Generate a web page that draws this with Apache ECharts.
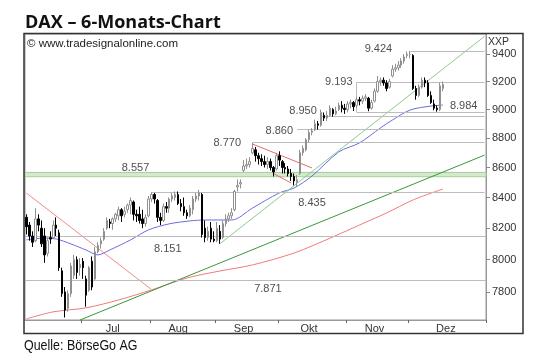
<!DOCTYPE html>
<html><head><meta charset="utf-8">
<script src="https://cdn.jsdelivr.net/npm/echarts@6/dist/echarts.min.js"></script>
<style>html,body{margin:0;padding:0;background:#fff}#c{width:540px;height:364px}</style>
</head><body><div id="c"></div>
<script>
// ---- categories: trading days (weekdays) from 4 Jun 2013 ----
const NDAYS = 155;
const dates = [];
(function () {
  const d = new Date(Date.UTC(2013, 5, 4));
  while (dates.length < NDAYS) {
    const wd = d.getUTCDay();
    if (wd !== 0 && wd !== 6) dates.push(d.toISOString().slice(0, 10));
    d.setUTCDate(d.getUTCDate() + 1);
  }
})();

const monthLabels = ['Jul', 'Aug', 'Sep', 'Okt', 'Nov', 'Dez'];
const monthLabelIdx = [29, 51, 73, 95, 117, 141];
const monthStartIdx = [19, 42, 64, 85, 108, 129];
const yTicks = [7800, 8000, 8200, 8400, 8600, 8800, 9000, 9200, 9400];

// ---- daily candles [open, close, low, high] ----
const ohlc = [
[8270,8210,8160,8290],[8220,8150,8120,8240],[8150,8110,8080,8180],[8120,8260,8110,8330],[8260,8220,8180,8290],
[8200,8100,8080,8250],[8150,8030,7980,8200],[8040,8120,8020,8140],[8140,8130,8100,8180],[8140,8220,8130,8250],
[8220,8200,8150,8270],[8170,7950,7930,8190],[7930,7790,7770,7950],[7800,7690,7645,7830],[7700,7790,7680,7810],
[7790,7960,7770,7980],[7900,8000,7880,8030],[8000,7920,7880,8020],[7950,7970,7900,8010],[7990,7950,7880,8010],
[7880,7780,7710,7900],[7810,7950,7800,7960],[7990,7830,7810,8020],[7880,8050,7870,8080],[8050,8090,8040,8110],
[8100,8120,8070,8140],[8130,8180,8120,8200],[8200,8250,8190,8270],[8240,8230,8200,8260],[8230,8260,8190,8270],
[8260,8290,8240,8300],[8280,8320,8250,8340],[8320,8280,8240,8330],[8290,8310,8270,8340],[8320,8350,8300,8360],
[8350,8380,8290,8400],[8370,8290,8250,8380],[8290,8280,8240,8320],[8290,8250,8230,8340],[8260,8230,8200,8320],
[8230,8270,8210,8290],[8280,8390,8270,8410],[8390,8420,8370,8435],[8420,8390,8360,8430],[8380,8270,8240,8390],
[8270,8250,8220,8300],[8250,8340,8240,8360],[8340,8330,8300,8370],[8330,8390,8300,8400],[8390,8410,8370,8430],
[8400,8420,8380,8440],[8420,8360,8350,8440],[8360,8340,8310,8390],[8340,8300,8280,8400],[8300,8280,8260,8320],
[8280,8330,8270,8350],[8320,8390,8290,8410],[8390,8410,8370,8430],[8410,8430,8380,8450],[8420,8160,8140,8430],
[8200,8140,8110,8250],[8140,8180,8120,8210],[8200,8130,8110,8240],[8130,8120,8110,8180],[8120,8200,8110,8240],
[8180,8130,8100,8220],[8140,8230,8130,8250],[8230,8260,8210,8290],[8260,8280,8240,8300],[8280,8300,8260,8330],
[8320,8440,8310,8450],[8470,8480,8440,8520],[8490,8500,8460,8520],[8580,8610,8570,8650],[8610,8620,8590,8660],
[8620,8640,8600,8670],[8700,8730,8690,8770],[8720,8680,8640,8740],[8680,8660,8620,8700],[8660,8640,8610,8690],
[8640,8620,8600,8680],[8620,8640,8590,8670],[8640,8600,8580,8660],[8600,8570,8540,8610],[8590,8680,8580,8700],
[8680,8650,8610,8710],[8640,8600,8560,8650],[8600,8590,8560,8630],[8590,8560,8540,8610],[8560,8540,8510,8590],
[8540,8510,8480,8560],[8500,8520,8470,8550],[8560,8700,8550,8720],[8700,8730,8680,8750],[8720,8790,8710,8800],
[8790,8840,8770,8860],[8840,8850,8820,8870],[8860,8900,8850,8930],[8900,8890,8860,8920],[8890,8980,8880,9000],
[8960,8940,8920,8980],[8940,8960,8920,8990],[8960,9010,8950,9030],[9000,8970,8950,9010],[8970,8990,8960,9020],
[9000,9030,8990,9050],[9030,9010,8980,9060],[9010,9000,8970,9040],[9000,9040,8980,9060],[9040,9050,9010,9070],
[9050,9020,8990,9060],[9030,9070,9010,9090],[9070,9060,9030,9090],[9060,9080,9040,9100],[9080,9090,9060,9110],
[9080,9010,8990,9090],[9010,9050,9000,9070],[9060,9130,9050,9150],[9130,9200,9120,9240],[9200,9210,9170,9230],
[9210,9190,9170,9230],[9190,9150,9130,9210],[9160,9200,9150,9220],[9240,9290,9230,9320],[9290,9300,9270,9330],
[9300,9320,9280,9350],[9320,9350,9300,9370],[9350,9380,9330,9400],[9390,9400,9370,9420],[9400,9400,9370,9424],
[9390,9150,9140,9400],[9150,9100,9070,9170],[9100,9160,9090,9180],[9160,9210,9150,9230],[9210,9190,9160,9230],
[9190,9100,9090,9210],[9100,9050,9040,9130],[9040,9010,8995,9070],[9010,9000,8985,9030],[9000,9170,8990,9190],
[9150,9180,9130,9200]
];

// ---- indicator lines [dayIndex, value] ----
const maBlue = [[0,8125],[6,8137],[10,8131],[15,8099],[20,8061],[24,8030],[28,8061],[35,8125],[41,8189],[48,8228],
  [55,8247],[60,8253],[69,8253],[76,8331],[85,8430],[90,8463],[96,8543],[105,8706],[112,8768],[119,8871],
  [123,8926],[129,8997],[136,9025],[140,9032]];
const maRed = [[0,7637],[9,7679],[20,7703],[31,7751],[42,7812],[54,7886],[65,7929],[76,7967],[90,8042],
  [103,8144],[112,8221],[121,8298],[130,8384],[140,8456]];
const trendSteep = [[65,8100],[154,9532]];
const trendLow = [[18,7630],[154,8684]];
const trendDown = [[0,8429],[42,7815]];
const flagUpper = [[76,8760],[96,8597]];
const flagLower = [[83,8560],[89,8496]];

// ---- horizontal levels ----
const levelValue = [9424, 9193, 8984, 8950, 8860, 8770, 8435];
const levelFrom  = [129, 111, 111, 99, 91, 76, 42];
const fullLevels = [8151, 7871];
const boxVert = [[111, 8984, 9193], [115, 8984, 9080]];
const band = [8538, 8567];

// ---- annotation texts ----
const annoText  = ['9.424', '9.193', '8.950', '8.860', '8.770', '8.557', '8.435', '8.151', '7.871', '8.984'];
const annoIdx   = [118, 105, 93, 85, 67, 38, 96, 48, 81, 147];
const annoValue = [9441, 9197, 8990, 8850, 8767, 8597, 8364, 8068, 7818, 9025];
const annoDx    = [1, 0, 0, 0, 1.5, -4, 0, -1.5, 0.5, 0];

const chart = echarts.init(document.getElementById('c'));

const markLineData = [];
levelValue.forEach((v, k) => markLineData.push([{coord: [levelFrom[k], v]}, {coord: [NDAYS - 1, v]}]));
fullLevels.forEach(v => markLineData.push({yAxis: v}));
boxVert.forEach(b => markLineData.push([{coord: [b[0], b[1]]}, {coord: [b[0], b[2]]}]));

function lineSeries(data, color, smooth) {
  return {type: 'line', data: data, symbol: 'none', smooth: smooth || false, silent: true,
    lineStyle: {color: color, width: 1}, z: 4, clip: true};
}

const option = {
  animation: false,
  grid: {left: 25, right: 54, top: 34, bottom: 44, show: true, borderColor: '#999', borderWidth: 1},
  xAxis: {
    type: 'category', data: dates, boundaryGap: true,
    axisLine: {show: true, lineStyle: {color: '#999'}},
    axisTick: {show: true, interval: (i) => monthStartIdx.indexOf(i) >= 0, length: 3, lineStyle: {color: '#666'}},
    axisLabel: {
      interval: (i) => monthLabelIdx.indexOf(i) >= 0,
      formatter: (v, i) => monthLabels[monthLabelIdx.indexOf(i)] || '',
      color: '#333', fontSize: 11, margin: 3, fontFamily: 'Liberation Sans'
    },
    splitLine: {show: false}
  },
  yAxis: {
    type: 'log', position: 'right', min: 7630, max: 9550, logBase: 10,
    axisLine: {show: true, lineStyle: {color: '#999'}},
    axisTick: {show: true, customValues: yTicks, length: 4, lineStyle: {color: '#888'}},
    axisLabel: {customValues: yTicks, formatter: (v) => String(Math.round(v)), color: '#333',
      fontSize: 11, margin: 6, fontFamily: 'Liberation Sans'},
    splitLine: {show: false}, minorTick: {show: false}, minorSplitLine: {show: false}
  },
  series: [
    {
      type: 'candlestick', data: ohlc, barWidth: 2, z: 5, silent: true,
      itemStyle: {color: '#ffffff', color0: '#000000', borderColor: '#909090', borderColor0: '#000000', borderWidth: 1},
      markArea: {silent: true, itemStyle: {color: '#d5e9ce', borderColor: '#a3cf99', borderWidth: 1},
        data: [[{yAxis: band[0]}, {yAxis: band[1]}]]},
      markLine: {silent: true, symbol: ['none', 'none'], label: {show: false},
        lineStyle: {color: '#bcbcbc', width: 1, type: 'solid'}, data: markLineData}
    },
    lineSeries(maRed, '#f07a7a', 0.3),
    lineSeries(maBlue, '#6b6be0', 0.3),
    lineSeries(trendSteep, '#8ccb8c'),
    lineSeries(trendLow, '#3c963c'),
    lineSeries(trendDown, '#f08a8a'),
    lineSeries(flagUpper, '#e86a6a'),
    lineSeries(flagLower, '#e86a6a'),
    {
      type: 'scatter', symbolSize: 0, silent: true, z: 6,
      data: annoText.map((t, k) => [annoIdx[k], annoValue[k]]),
      label: {show: true, position: 'inside', color: '#222', fontSize: 11, fontFamily: 'Liberation Sans',
        formatter: (p) => annoText[p.dataIndex]},
      labelLayout: (p) => ({dx: annoDx[p.dataIndex]})
    }
  ],
  graphic: [
    {type: 'rect', shape: {x: 24, y: 33.5, width: 499, height: 300}, silent: true,
      style: {fill: 'none', stroke: '#333', lineWidth: 1.5}, z: 10},
    {type: 'text', x: 25, y: 23, silent: true,
      style: {text: 'DAX – 6-Monats-Chart', font: 'bold 18px "Open Sans"', fill: '#111',
        textVerticalAlign: 'middle', verticalAlign: 'middle'}},
    {type: 'text', x: 27, y: 43.5, silent: true,
      style: {text: '© www.tradesignalonline.com', font: '11.5px "Liberation Sans"', fill: '#222',
        textVerticalAlign: 'middle', verticalAlign: 'middle'}},
    {type: 'text', x: 488, y: 42, silent: true,
      style: {text: 'XXP', font: '10.5px "Liberation Sans"', fill: '#333',
        textVerticalAlign: 'middle', verticalAlign: 'middle'}},
    {type: 'text', x: 24, y: 346, scaleX: 0.83, silent: true,
      style: {text: 'Quelle: BörseGo AG', font: '15px "Liberation Sans"', fill: '#111',
        textVerticalAlign: 'middle', verticalAlign: 'middle'}}
  ]
};
chart.setOption(option);
</script>
</body></html>
